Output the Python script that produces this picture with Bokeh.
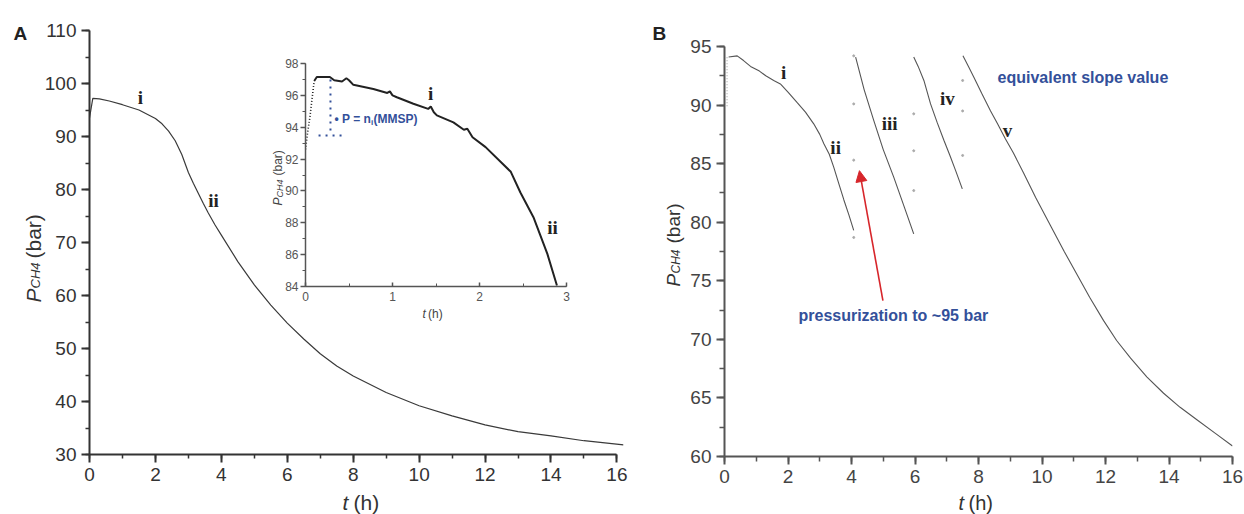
import numpy as np
from bokeh.plotting import figure
from bokeh.models import Range1d, SingleIntervalTicker, Label, Arrow, NormalHead, GridBox
from bokeh.embed import file_html
from bokeh.resources import INLINE

# ---------------- data ----------------
# Panel A: full run
tA = [0.0, 0.1, 0.3, 0.6, 1.0, 1.5, 2.0, 2.2, 2.4, 2.6, 2.8, 3.0, 3.15, 3.3, 3.45, 3.6, 3.8,
      4.0, 4.5, 5.0, 5.5, 6.0, 6.5, 7.0, 7.5, 8.0, 9.0, 10.0, 11.0, 12.0, 13.0, 14.0, 15.0, 16.2]
PA = [93.5, 97.2, 97.1, 96.7, 96.0, 95.0, 93.4, 92.4, 91.0, 89.2, 86.6, 83.2, 81.2, 79.3, 77.4,
      75.6, 73.4, 71.4, 66.4, 62.0, 58.2, 54.8, 51.8, 49.0, 46.7, 44.8, 41.7, 39.2, 37.3, 35.6,
      34.3, 33.5, 32.6, 31.8]

# Panel A inset: first 3 h
t_rise = [0.0, 0.02, 0.05, 0.08, 0.10]
P_rise = [92.6, 93.5, 94.6, 96.0, 96.9]
t_in = [0.10, 0.13, 0.28, 0.33, 0.42, 0.47, 0.50, 0.55, 0.78, 0.94, 0.97, 1.00, 1.05, 1.24,
        1.41, 1.44, 1.475, 1.51, 1.70, 1.82, 1.86, 1.92, 2.07, 2.36, 2.47, 2.62, 2.78, 2.89]
P_in = [96.9, 97.15, 97.15, 96.95, 96.87, 97.07, 96.95, 96.66, 96.4, 96.15, 96.25, 96.0, 95.88,
        95.47, 95.15, 95.3, 94.94, 94.74, 94.3, 93.84, 93.9, 93.37, 92.75, 91.2, 89.9, 88.35,
        86.05, 84.06]
mmsp_t_vert = [0.287, 0.287]
mmsp_P_vert = [97.0, 93.48]
mmsp_t_horiz = [0.15, 0.46]
mmsp_P_horiz = [93.48, 93.48]

# Panel B: repeated pressurizations
tB_start = [0.08, 0.08]
PB_start = [89.9, 94.1]
tB1 = [0.13, 0.40, 0.60, 0.82, 1.10, 1.30, 1.55, 1.76, 2.00, 2.29, 2.55, 2.81, 3.00, 3.13,
       3.30, 3.44, 3.60, 3.76, 3.92, 4.07]
PB1 = [94.1, 94.2, 93.8, 93.3, 92.9, 92.5, 92.1, 91.8, 91.1, 90.2, 89.4, 88.4, 87.5, 86.7,
       85.8, 84.7, 83.3, 81.9, 80.6, 79.3]
tB2 = [4.13, 4.40, 4.70, 5.00, 5.33, 5.65, 5.96]
PB2 = [94.1, 91.3, 88.7, 86.2, 83.85, 81.4, 79.0]
tB3 = [5.96, 6.10, 6.28, 6.49, 6.70, 6.91, 7.10, 7.28, 7.49]
PB3 = [94.1, 93.3, 92.1, 90.1, 88.5, 87.0, 85.7, 84.4, 82.85]
tB4 = [7.51, 7.70, 7.85, 8.10, 8.38, 8.60, 8.85, 9.10, 9.42, 9.80, 10.27, 10.70, 11.12, 11.50,
       11.94, 12.35, 12.79, 13.30, 13.83, 14.35, 14.90, 15.45, 16.0]
PB4 = [94.2, 93.2, 92.4, 91.0, 89.5, 88.4, 87.1, 85.9, 84.2, 82.1, 79.7, 77.5, 75.45, 73.6,
       71.6, 69.9, 68.4, 66.8, 65.4, 64.2, 63.1, 62.0, 60.9]
t_gap = [4.07, 4.07, 4.07, 4.07, 5.96, 5.96, 5.96, 7.50, 7.50, 7.50]
P_gap = [94.2, 90.1, 85.3, 78.7, 89.25, 86.1, 82.7, 92.1, 89.5, 85.7]

SANS = "Liberation Sans"
SERIF = "Liberation Serif"
BLUE = "#33509a"
RED = "#d7262b"


def style(p, color, lw, major_out, major_in, minor_out, minor_in, fsize, lcolor, standoff):
    for ax in p.axis:
        ax.axis_line_color = color
        ax.axis_line_width = lw
        ax.major_tick_line_color = color
        ax.major_tick_line_width = lw
        ax.minor_tick_line_color = color
        ax.minor_tick_line_width = max(1, lw - 0.5)
        ax.major_tick_out = major_out
        ax.major_tick_in = major_in
        ax.minor_tick_out = minor_out
        ax.minor_tick_in = minor_in
        ax.major_label_text_font = SANS
        ax.major_label_text_font_size = fsize
        ax.major_label_text_color = lcolor
        ax.major_label_standoff = standoff
    p.grid.visible = False
    p.outline_line_color = None


def lab(p, x, y, text, size, font=SANS, style_="normal", color="#333", angle=0.0,
        align="left", baseline="alphabetic"):
    p.add_layout(Label(x=x, y=y, text=text, text_font=font, text_font_size=size,
                       text_font_style=style_, text_color=color, angle=angle,
                       text_align=align, text_baseline=baseline))


def numeral(p, x, y, s):
    lab(p, x, y, s, "19px", font=SERIF, style_="bold", color="#222",
        align="center", baseline="middle")


# ---------------- panel A ----------------
pA = figure(width=635, height=511, output_backend="svg", toolbar_location=None,
            x_range=Range1d(0, 16.2), y_range=Range1d(30, 110),
            min_border_left=88, min_border_right=13, min_border_top=29, min_border_bottom=58,
            background_fill_color=None, border_fill_color=None)
pA.line(tA, PA, line_color="#3a3a3a", line_width=1.2)
pA.xaxis.ticker = SingleIntervalTicker(interval=2, num_minor_ticks=2)
pA.yaxis.ticker = SingleIntervalTicker(interval=10, num_minor_ticks=2)
pA.xaxis.bounds = (0, 16)
style(pA, "#333333", 2, 8, 0, 4, 0, "19px", "#333333", 5)
numeral(pA, 1.547, 97.36, "i")
numeral(pA, 3.76, 77.9, "ii")

# ---------------- inset ----------------
pin = figure(width=318, height=265, output_backend="svg", toolbar_location=None,
             x_range=Range1d(0, 3), y_range=Range1d(84, 98),
             min_border_left=43, min_border_right=14, min_border_top=8, min_border_bottom=34,
             background_fill_color=None, border_fill_color=None)
pin.line(t_rise, P_rise, line_color="#222", line_width=1.6, line_dash="1 2")
pin.line(t_in, P_in, line_color="#222", line_width=2)
pin.line(mmsp_t_vert, mmsp_P_vert, line_color=BLUE, line_width=2, line_dash="2 5")
pin.line(mmsp_t_horiz, mmsp_P_horiz, line_color=BLUE, line_width=2, line_dash="2 5")
pin.xaxis.ticker = SingleIntervalTicker(interval=1, num_minor_ticks=2)
pin.yaxis.ticker = SingleIntervalTicker(interval=2, num_minor_ticks=2)
style(pin, "#555555", 1.5, 5, 0, 3, 0, "12px", "#555555", 2)
pin.xaxis.major_tick_out = 0
pin.xaxis.major_tick_in = 4
pin.xaxis.minor_tick_out = 0
pin.xaxis.minor_tick_in = 3
pin.xaxis.major_label_standoff = 5
lab(pin, 0.333, 94.53, "\u2022 P = n", "12px", style_="bold", color=BLUE, baseline="middle")
lab(pin, 0.753, 94.30, "i", "8px", style_="bold", color=BLUE, baseline="middle")
lab(pin, 0.782, 94.53, "(MMSP)", "12px", style_="bold", color=BLUE, baseline="middle")
numeral(pin, 1.437, 96.12, "i")
numeral(pin, 2.84, 87.7, "ii")

# ---------------- panel B ----------------
pB = figure(width=606, height=497, output_backend="svg", toolbar_location=None,
            x_range=Range1d(0, 16), y_range=Range1d(60, 95),
            min_border_left=87, min_border_right=11, min_border_top=30, min_border_bottom=57,
            background_fill_color=None, border_fill_color=None)
pB.line(tB_start, PB_start, line_color="#999", line_width=1, line_dash="1 2")
for tt, pp in ((tB1, PB1), (tB2, PB2), (tB3, PB3), (tB4, PB4)):
    pB.line(tt, pp, line_color="#555555", line_width=1.1)
pB.scatter(t_gap, P_gap, size=2, color="#aaaaaa")
pB.xaxis.ticker = SingleIntervalTicker(interval=2, num_minor_ticks=2)
pB.yaxis.ticker = SingleIntervalTicker(interval=5, num_minor_ticks=2)
style(pB, "#555555", 2, 8, 0, 5, 0, "19px", "#444444", 5)
for tx, py, s in ((1.86, 92.78, "i"), (3.50, 86.38, "ii"), (5.20, 88.43, "iii"),
                  (7.02, 90.56, "iv"), (8.91, 87.83, "v")):
    numeral(pB, tx, py, s)
lab(pB, 8.60, 92.35, "equivalent slope value", "16px", style_="bold", color=BLUE,
    baseline="middle")
lab(pB, 2.33, 72.04, "pressurization to ~95 bar", "16px", style_="bold", color=BLUE,
    baseline="middle")
pB.add_layout(Arrow(end=NormalHead(size=11, fill_color=RED, line_color=RED),
                    x_start=4.99, y_start=73.3, x_end=4.25, y_end=84.4,
                    line_color=RED, line_width=1.6))

# ---------------- overlay for texts outside the plot frames (page pixels) ----------------
ov = figure(width=1244, height=514, output_backend="svg", toolbar_location=None,
            x_range=Range1d(0, 1244), y_range=Range1d(514, 0),
            x_axis_location=None, y_axis_location=None,
            min_border=0, min_border_left=0, min_border_right=0, min_border_top=0,
            min_border_bottom=0, background_fill_color=None, border_fill_color=None)
ov.grid.visible = False
ov.outline_line_color = None
V = np.pi / 2
# panel A
lab(ov, 13, 33, "A", "19px", style_="bold", color="#222")
lab(ov, 33, 302, "P", "21px", style_="italic", angle=V)
lab(ov, 35, 288, "CH4", "13px", style_="italic", angle=V)
lab(ov, 33, 258, "(bar)", "21px", angle=V)
lab(ov, 342, 502, "t", "21px", style_="italic")
lab(ov, 353, 502, "(h)", "21px")
# inset
lab(ov, 277, 205, "P", "12px", style_="italic", color="#444", angle=V)
lab(ov, 279, 197, "CH4", "9px", style_="italic", color="#444", angle=V)
lab(ov, 277, 175, "(bar)", "12px", color="#444", angle=V)
lab(ov, 422, 313, "t", "12px", style_="italic", color="#444")
lab(ov, 427.5, 313, "(h)", "12px", color="#444")
# panel B
lab(ov, 652, 33, "B", "19px", style_="bold", color="#222")
lab(ov, 673, 286, "P", "19px", style_="italic", angle=V)
lab(ov, 675, 273, "CH4", "12px", style_="italic", angle=V)
lab(ov, 673, 243, "(bar)", "19px", angle=V)
lab(ov, 958, 502, "t", "20px", style_="italic")
lab(ov, 968, 502, "(h)", "20px")

grid = GridBox(children=[(pA, 1, 1, 4, 3), (pin, 3, 2, 1, 1), (pB, 2, 5, 4, 1),
                         (ov, 0, 0, 7, 7)],
               rows=["1px", "15px", "39px", "265px", "192px", "1px", "1px"],
               cols=["1px", "261px", "318px", "56px", "1px", "606px", "1px"],
               spacing=0)

open("out.html", "w").write(file_html(grid, INLINE))
